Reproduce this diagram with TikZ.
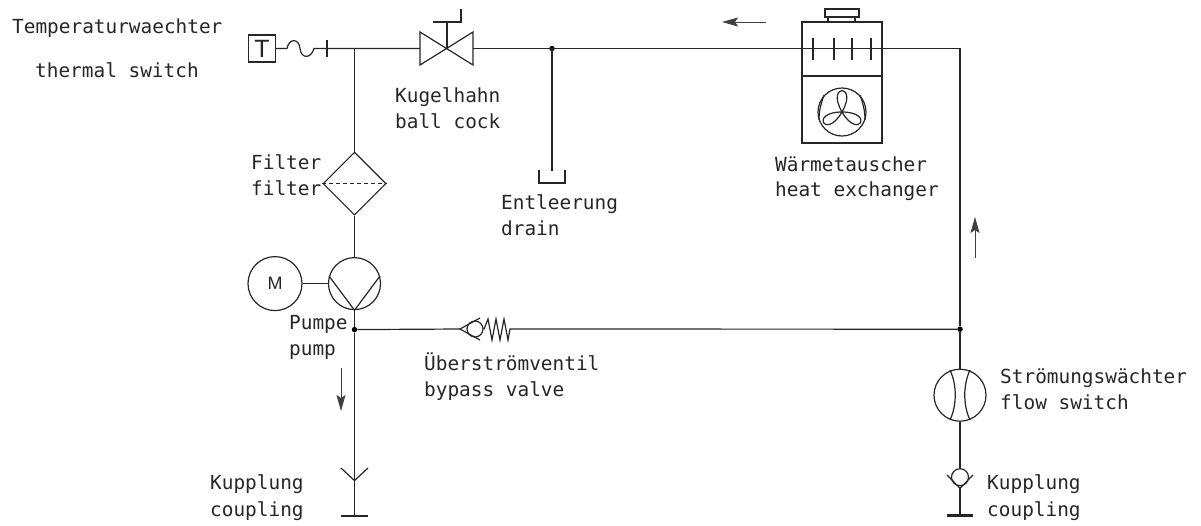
\documentclass[tikz,border=0pt]{standalone}
\usepackage{fontspec}
\setmonofont{DejaVu Sans Mono}
\setsansfont{Liberation Sans}
\usetikzlibrary{positioning,shapes.geometric,arrows.meta}

\tikzset{
  pipe/.style = {line width=1.2pt, black!85},
  bar/.style = {line width=2.4pt, black!85},
  flowarrow/.style = {line width=0.9pt, black!75, -{Stealth[length=16pt,width=9pt,inset=3pt]}},
  round/.style = {circle, draw, pipe, inner sep=0pt, minimum size=52pt},
  junction/.style = {circle, fill=black, inner sep=0pt, minimum size=5.5pt},
  lbl/.style = {anchor=base west, inner sep=0pt, font=\ttfamily\fontsize{19.4}{19.4}\selectfont, black!85},
}

\begin{document}
\begin{tikzpicture}[x=1pt, y=-1pt, on grid]
    \useasboundingbox (0,0) rectangle (1201,525);

    \coordinate (tee) at (354.5,48.5);
    \coordinate[left=27.5pt of tee] (stop);
    \node[draw, pipe, inner sep=0pt, minimum size=27pt, left=78.5pt of tee, font=\sffamily\fontsize{25}{25}\selectfont] (tbox) {T};
    \coordinate[right=92.5pt of tee] (valve);
    \coordinate[right=197.5pt of tee] (tee2);
    \coordinate[right=605.5pt of tee] (corner);

    \node[diamond, draw, pipe, aspect=1, inner sep=0pt, minimum width=63pt, minimum height=63pt, below=103pt of tee] (filter) {};
    \node[round, below=100pt of filter] (pump) {};
    \node[round, minimum size=54pt, left=79.5pt of pump, font=\sffamily\fontsize{18}{18}\selectfont] (motor) {M};
    \node[junction, below=46pt of pump] (tee3) {};
    \coordinate[below=151pt of tee3] (vtip);
    \coordinate[below=36pt of vtip] (base);

    \node[junction, below=277.75pt of corner] (tee4) {};
    \node[round, below=66pt of tee4] (flow) {};
    \node[circle, draw, pipe, inner sep=0pt, minimum size=17pt, below=82pt of flow] (ball) {};
    \coordinate[below=11pt of ball] (vtip2);
    \coordinate[below=27pt of vtip2] (base2);

    \node[junction, at=(tee2)] (tee2n) {};
    \coordinate[below=122pt of tee2] (cup);

    \node[draw, pipe, inner sep=0pt, minimum width=80pt, minimum height=121pt] (hx) at (842,82.5) {};
    \node[circle, draw, pipe, inner sep=0pt, minimum size=48pt] (fan) at (842,112) {};

    \node[circle, draw, pipe, inner sep=0pt, minimum size=16pt] (check) at (475,329) {};
    \coordinate (ctip) at (460,329);
    \coordinate (springL) at (484,329);
    \coordinate (springR) at (510,329);

    \draw[pipe] (tbox) -- (287,48.5) .. controls (289,38) and (299,38) .. (300,48.5)
      .. controls (301,59) and (311,59) .. (314,48.5) -- (stop) -- (tee) -- (420,48.5);
    \draw[bar] (327,40) -- (327,57);
    \draw[pipe] (420,32) -- (473,65) -- (473,32) -- (420,65) -- cycle;
    \draw[pipe] (valve) -- (447,22) (433,22) -- (461,22) -- (461,9);
    \draw[pipe] (473,48.5) -- (tee2) -- (corner) -- (tee4) -- (flow);

    \draw[pipe] (tee) -- (filter);
    \draw[pipe] (filter) -- (pump);
    \draw[pipe, dash pattern=on 4pt off 3pt] (filter.west) -- (filter.east);
    \draw[pipe] (motor) -- (pump);
    \draw[pipe] (pump.south) -- (tee3) -- (vtip) -- (base);
    \draw[pipe] (329,276) -- (pump.south) -- (380,276);
    \draw[pipe] (341,468) -- (vtip) -- (368,468);
    \draw[bar] (341,516) -- (368,516);

    \draw[pipe] (tee3) -- (ctip);
    \draw[pipe] (480,318) -- (ctip) -- (480,340);
    \draw[pipe] (check) -- (springL) -- (488,319) -- (492,340) -- (496,319) -- (500,340) -- (504,319) -- (508,340) -- (springR) -- (tee4);

    \draw[pipe] (tee2) -- (cup) (539,170) -- (539,183) -- (565,183) -- (565,170);

    \draw[pipe] (950,370) .. controls (957,385) and (957,405) .. (950,420);
    \draw[pipe] (970,370) .. controls (963,385) and (963,405) .. (970,420);
    \draw[pipe] (flow) -- (ball);
    \draw[pipe] (947,475) -- (vtip2) -- (973,475);
    \draw[pipe] (vtip2) -- (base2);
    \draw[bar] (947,515.5) -- (973,515.5);

    \draw[pipe] (802,76) -- (882,76);
    \draw[pipe] (828,22) -- (828,17) (855,22) -- (855,17);
    \draw[pipe] (825,17) -- (825,9) -- (859,9) -- (859,17) -- cycle;
    \foreach \tx in {813,834,852,871} {
      \draw[pipe] (\tx,38) -- (\tx,60);
    }
    \foreach \a in {-90,30,150} {
      \draw[pipe] (fan.center) .. controls +(\a-30:33) and +(\a+30:33) .. (fan.center);
    }
    \draw[pipe] (824,95) .. controls (821,104) and (819,110) .. (819,120);
    \draw[pipe] (860,95) .. controls (863,104) and (865,110) .. (865,120);

    \draw[flowarrow] (766,22) -- (722,22);
    \draw[flowarrow] (975,258) -- (975,217);
    \draw[flowarrow] (341,368) -- (341,411);

    \node[lbl] (tempde) at (12,33) {Temperaturwaechter};
    \node[lbl] (tempen) at (35,77) {thermal switch};
    \node[lbl] (valvede) at (395,102) {Kugelhahn};
    \node[lbl] (valveen) at (395,128) {ball cock};
    \node[lbl] (filterde) at (251,169) {Filter};
    \node[lbl] (filteren) at (251,195) {filter};
    \node[lbl] (drainde) at (501,209) {Entleerung};
    \node[lbl] (drainen) at (501,235) {drain};
    \node[lbl] (hxde) at (775,171) {Wärmetauscher};
    \node[lbl] (hxen) at (775,196) {heat exchanger};
    \node[lbl] (pumpde) at (289,329) {Pumpe};
    \node[lbl] (pumpen) at (289,355) {pump};
    \node[lbl] (bypassde) at (424,370) {Überströmventil};
    \node[lbl] (bypassen) at (424,396) {bypass valve};
    \node[lbl] (flowde) at (1000,383) {Strömungswächter};
    \node[lbl] (flowen) at (1000,409) {flow switch};
    \node[lbl] (couplde) at (210,489) {Kupplung};
    \node[lbl] (couplen) at (210,516) {coupling};
    \node[lbl] (coupl2de) at (987,489) {Kupplung};
    \node[lbl] (coupl2en) at (987,516) {coupling};
\end{tikzpicture}
\end{document}
